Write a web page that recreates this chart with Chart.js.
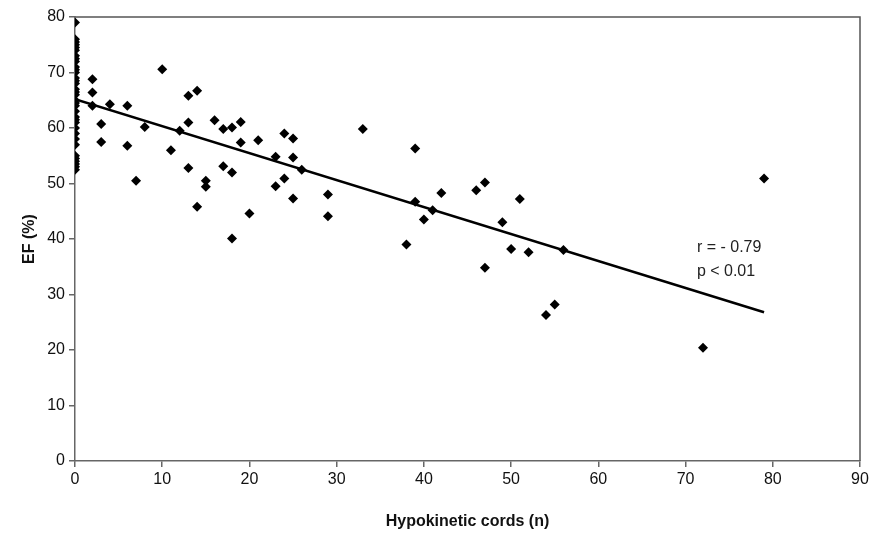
<!DOCTYPE html>
<html>
<head>
<meta charset="utf-8">
<script src="https://cdn.jsdelivr.net/npm/chart.js@4/dist/chart.umd.min.js"></script>
<style>
html,body{margin:0;padding:0;background:#fff;}
#wrap{width:884px;height:534px;}
</style>
</head>
<body>
<div id="wrap"><canvas id="c" width="884" height="534"></canvas></div>
<script>
// Data
const cordsX = [
  0,0,0,0,0,0,0,0,0,0,0,0,0,0,0,0,0,0,0,0,0,0,0,0,0,0,0,0,0,0,0,0,0,0,0,
  2,2,2,3,3,4,6,6,7,8,10,11,12,13,13,13,14,14,15,15,16,17,17,18,18,18,19,19,
  20,21,23,23,24,24,25,25,25,26,29,29,33,38,39,39,40,41,42,46,47,47,49,50,51,52,
  54,55,56,72,79
];
const efY = [
  79,76,75.5,75,74.5,74,73,72.5,72,71,70.5,70,69,68.5,68,67,66.5,66,65,64.5,64,63,62,61.5,61,60,59,58,57,55,54.5,54,53.5,53,52.5,
  68.8,66.4,64,60.7,57.5,64.3,64,56.8,50.5,60.2,70.6,56,59.5,65.8,61,52.8,66.7,45.8,50.5,49.4,61.4,59.8,53.1,60.1,52,40.1,61.1,57.4,
  44.6,57.8,54.8,49.5,59,50.9,58.1,54.7,47.3,52.5,48,44.1,59.8,39,56.3,46.7,43.5,45.2,48.3,48.8,50.2,34.8,43,38.2,47.2,37.6,
  26.3,28.2,38,20.4,50.9
];
const trendX = [0, 79];
const trendY = [65.2, 26.8];
const xTicks = [0,10,20,30,40,50,60,70,80,90];
const yTicks = [0,10,20,30,40,50,60,70,80];
const statLines = ['r = - 0.79', 'p < 0.01'];
const statPos = {x: 71.3, y: 38.4};

const pts = cordsX.map((x, i) => ({x: x, y: efY[i]}));
const trend = trendX.map((x, i) => ({x: x, y: trendY[i]}));

const tickFont = {family: "'Liberation Sans Narrow','Liberation Sans',Arial,sans-serif", size: 16};
const titleFont = {family: "'Liberation Sans Narrow','Liberation Sans',Arial,sans-serif", size: 16, weight: 'bold'};

const framePlugin = {
  id: 'frame',
  afterDraw(chart) {
    const {ctx, chartArea: a, scales} = chart;
    ctx.save();
    ctx.strokeStyle = '#555';
    ctx.lineWidth = 1.5;
    ctx.beginPath();
    ctx.moveTo(a.left, a.top);
    ctx.lineTo(a.right, a.top);
    ctx.lineTo(a.right, a.bottom);
    ctx.stroke();
    ctx.fillStyle = '#222';
    ctx.font = "16px 'Liberation Sans', Arial, sans-serif";
    ctx.textBaseline = 'middle';
    ctx.textAlign = 'left';
    const px = scales.x.getPixelForValue(statPos.x);
    const py = scales.y.getPixelForValue(statPos.y);
    statLines.forEach((t, i) => ctx.fillText(t, px, py + i * 24));
    ctx.restore();
  }
};

new Chart(document.getElementById('c'), {
  type: 'scatter',
  data: {
    datasets: [
      {
        label: 'EF',
        data: pts,
        pointStyle: 'rectRot',
        pointRadius: 5,
        pointHoverRadius: 5,
        backgroundColor: '#000',
        borderColor: '#000',
        borderWidth: 0,
        order: 2
      },
      {
        type: 'line',
        label: 'trend',
        data: trend,
        borderColor: '#000',
        borderWidth: 2.5,
        pointRadius: 0,
        fill: false,
        order: 1
      }
    ]
  },
  options: {
    responsive: false,
    animation: false,
    events: [],
    layout: {padding: {left: 0, right: 24, top: 17, bottom: 0}},
    plugins: {legend: {display: false}, tooltip: {enabled: false}},
    scales: {
      x: {
        type: 'linear',
        min: 0, max: 90,
        afterBuildTicks(s) { s.ticks = xTicks.map(v => ({value: v})); },
        afterFit(s) { s.height = 73; },
        ticks: {font: tickFont, color: '#111', padding: 3, maxRotation: 0},
        grid: {drawOnChartArea: false, drawTicks: true, tickLength: 6, color: '#666', lineWidth: 1.5},
        border: {display: true, color: '#666', width: 1.5},
        title: {display: true, text: 'Hypokinetic cords (n)', font: titleFont, color: '#111', padding: {top: 4, bottom: 3}}
      },
      y: {
        type: 'linear',
        min: 0, max: 80,
        afterBuildTicks(s) { s.ticks = yTicks.map(v => ({value: v})); },
        afterFit(s) { s.width = 75; },
        ticks: {font: tickFont, color: '#111', padding: 4},
        grid: {drawOnChartArea: false, drawTicks: true, tickLength: 6, color: '#666', lineWidth: 1.5},
        border: {display: true, color: '#666', width: 1.5},
        title: {display: true, text: 'EF (%)', font: titleFont, color: '#111', padding: {top: 20, bottom: 0}}
      }
    }
  },
  plugins: [framePlugin]
});
</script>
</body>
</html>
